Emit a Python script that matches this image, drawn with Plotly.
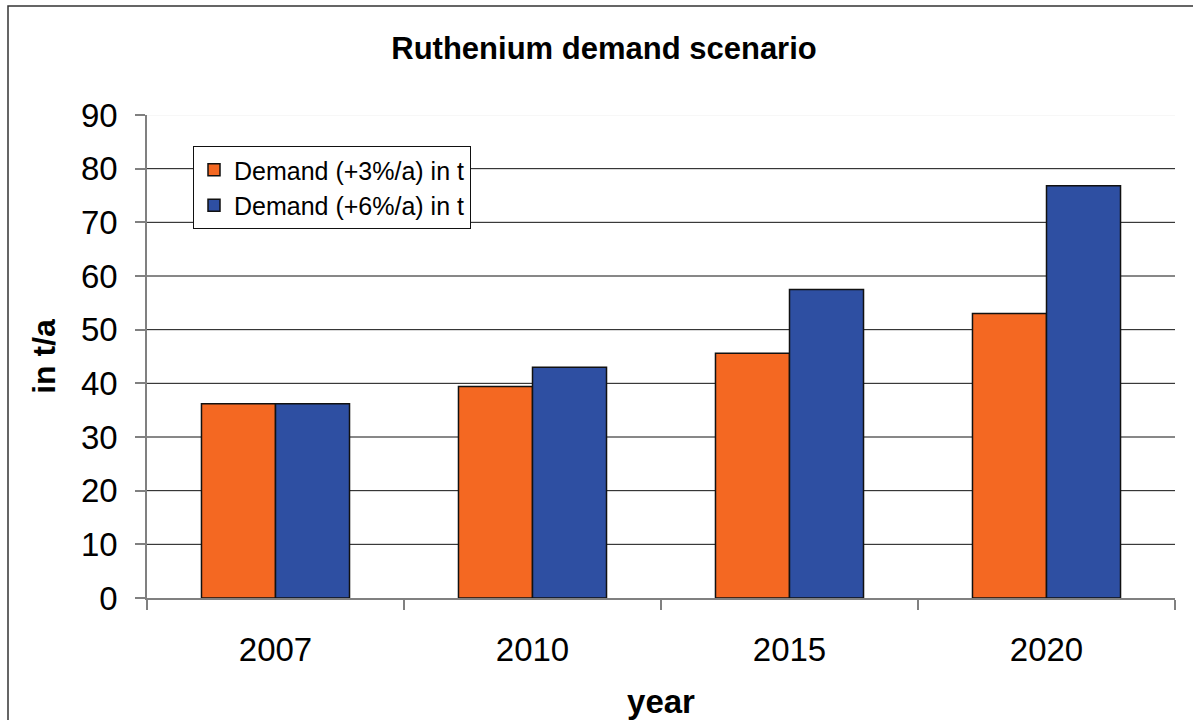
import plotly.graph_objects as go

years = ["2007", "2010", "2015", "2020"]
demand_3 = [36.2, 39.4, 45.6, 53.0]
demand_6 = [36.2, 43.0, 57.5, 76.8]
series_names = ["Demand (+3%/a) in t", "Demand (+6%/a) in t"]
y_ticks = [0, 10, 20, 30, 40, 50, 60, 70, 80, 90]

ORANGE = "#F46822"
BLUE = "#2E4FA2"
FONT = "Liberation Sans, Arial, sans-serif"

W, H = 1193, 720
ML, MR, MT, MB = 147, 18, 115, 122
PW, PH = W - ML - MR, H - MT - MB

fig = go.Figure()
fig.add_trace(go.Bar(x=years, y=demand_3, name=series_names[0],
                     marker=dict(color=ORANGE, line=dict(color="#111111", width=1.5))))
fig.add_trace(go.Bar(x=years, y=demand_6, name=series_names[1],
                     marker=dict(color=BLUE, line=dict(color="#111111", width=1.5))))

# horizontal gridlines (top one faint, as in the reference)
for v in y_ticks[1:]:
    fig.add_shape(type="line", xref="paper", x0=0, x1=1, yref="y", y0=v, y1=v,
                  line=dict(color="#F0F0F0" if v == y_ticks[-1] else "#111111", width=1),
                  layer="below")

# outer chart border (left and top visible)
fig.add_shape(type="rect", xref="paper", yref="paper",
              x0=(8 - ML) / PW, x1=(W + 40 - ML) / PW,
              y0=-(H + 40 - (H - MB)) / PH, y1=((H - MB) - 6) / PH,
              line=dict(color="#333333", width=1.5), fillcolor="rgba(0,0,0,0)")

fig.update_layout(
    width=W, height=H,
    margin=dict(l=ML, r=MR, t=MT, b=MB, autoexpand=False),
    paper_bgcolor="white", plot_bgcolor="white",
    barmode="group", bargap=0.424, bargroupgap=0,
    font=dict(family=FONT, color="black"),
    title=dict(text="<b>Ruthenium demand scenario</b>", x=604 / W, xref="container",
               xanchor="center", y=1 - 48 / H, yref="container", yanchor="middle",
               font=dict(size=31, family=FONT, color="black")),
    legend=dict(x=(193 - ML) / PW, y=((H - MB) - 146) / PH, xanchor="left", yanchor="top",
                bgcolor="white", bordercolor="#111111", borderwidth=1,
                font=dict(size=25, family=FONT, color="black")),
    xaxis=dict(type="category", showgrid=False, showline=True, linecolor="#808080", linewidth=1.5,
               ticks="outside", tickson="boundaries", ticklen=10, tickcolor="#808080", tickwidth=1.5,
               tickfont=dict(size=33, family=FONT, color="black"), ticklabelstandoff=22,
               automargin=False,
               title=dict(text="<b>year</b>", font=dict(size=33, family=FONT, color="black"), standoff=23)),
    yaxis=dict(range=[0, 90], tickvals=y_ticks, showgrid=False, zeroline=False,
               showline=True, linecolor="#808080", linewidth=1.5,
               ticks="outside", ticklen=10, tickcolor="#808080", tickwidth=1.5,
               tickfont=dict(size=33, family=FONT, color="black"), ticklabelstandoff=11,
               automargin=False,
               title=dict(text="<b>in t/a</b>", font=dict(size=32, family=FONT, color="black"), standoff=16)),
)

fig.write_html("out.html", config={"displayModeBar": False},
               post_script="document.body.style.margin='0';")
